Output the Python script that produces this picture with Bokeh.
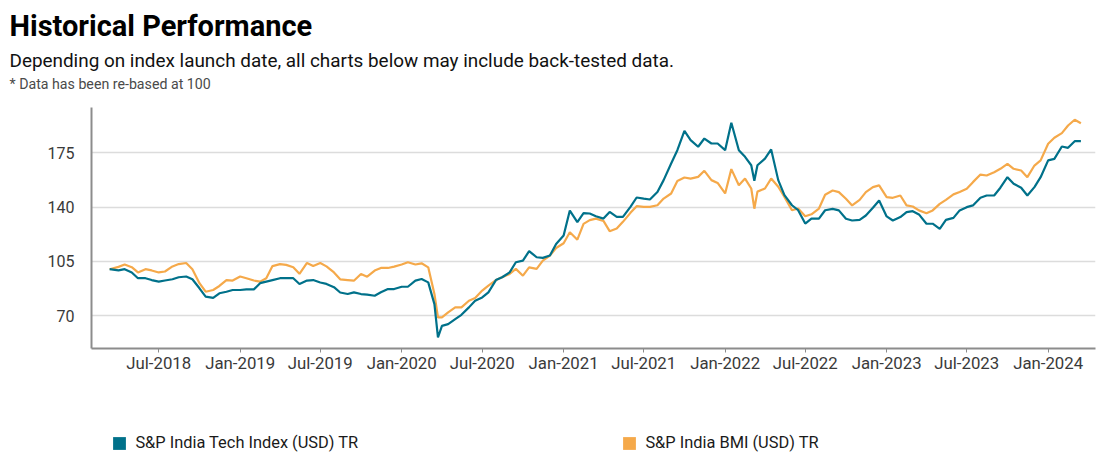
import datetime as dt
from bokeh.plotting import figure
from bokeh.layouts import column
from bokeh.models import (Label, FixedTicker, DatetimeTickFormatter, Range1d,
                          Legend, LegendItem, ColumnDataSource)
from bokeh.embed import file_html
from bokeh.resources import INLINE

# ---------------- data ----------------
dates = [
    "2018-03-12", "2018-04-01", "2018-04-15", "2018-05-01", "2018-05-15", "2018-06-01", "2018-06-15",
    "2018-07-01", "2018-07-15", "2018-08-01", "2018-08-15", "2018-09-01", "2018-09-15", "2018-10-01",
    "2018-10-15", "2018-11-01", "2018-11-15", "2018-12-01", "2018-12-15", "2019-01-01", "2019-01-15",
    "2019-02-01", "2019-02-15", "2019-03-01", "2019-03-15", "2019-04-01", "2019-04-15", "2019-05-01",
    "2019-05-15", "2019-06-01", "2019-06-15", "2019-07-01", "2019-07-15", "2019-08-01", "2019-08-15",
    "2019-09-01", "2019-09-15", "2019-10-01", "2019-10-15", "2019-11-01", "2019-11-15", "2019-12-01",
    "2019-12-15", "2020-01-01", "2020-01-15", "2020-02-01", "2020-02-15", "2020-03-01", "2020-03-15",
    "2020-03-23", "2020-04-01", "2020-04-15", "2020-05-01", "2020-05-15", "2020-06-01", "2020-06-15",
    "2020-07-01", "2020-07-15", "2020-08-01", "2020-08-15", "2020-09-01", "2020-09-15", "2020-10-01",
    "2020-10-15", "2020-11-01", "2020-11-15", "2020-12-01", "2020-12-15", "2021-01-01", "2021-01-15",
    "2021-02-01", "2021-02-15", "2021-03-01", "2021-03-15", "2021-04-01", "2021-04-15", "2021-05-01",
    "2021-05-15", "2021-06-01", "2021-06-15", "2021-07-01", "2021-07-15", "2021-08-01", "2021-08-15",
    "2021-09-01", "2021-09-15", "2021-10-01", "2021-10-15", "2021-11-01", "2021-11-15", "2021-12-01",
    "2021-12-15", "2022-01-01", "2022-01-15", "2022-02-01", "2022-02-15", "2022-03-01", "2022-03-08",
    "2022-03-15", "2022-04-01", "2022-04-15", "2022-05-01", "2022-05-15", "2022-06-01", "2022-06-15",
    "2022-07-01", "2022-07-15", "2022-08-01", "2022-08-15", "2022-09-01", "2022-09-15", "2022-10-01",
    "2022-10-15", "2022-11-01", "2022-11-15", "2022-12-01", "2022-12-15", "2023-01-01", "2023-01-15",
    "2023-02-01", "2023-02-15", "2023-03-01", "2023-03-15", "2023-04-01", "2023-04-15", "2023-05-01",
    "2023-05-15", "2023-06-01", "2023-06-15", "2023-07-01", "2023-07-15", "2023-08-01", "2023-08-15",
    "2023-09-01", "2023-09-15", "2023-10-01", "2023-10-15", "2023-11-01", "2023-11-15", "2023-12-01",
    "2023-12-15", "2024-01-01", "2024-01-15", "2024-02-01", "2024-02-15", "2024-03-01", "2024-03-15",
]

tech_index = [
    100.0, 99.2, 100.0, 97.9, 94.2, 94.2, 93.0,
    92.0, 92.7, 93.5, 94.8, 95.3, 93.5, 87.7,
    82.3, 81.5, 84.5, 85.5, 86.6, 86.6, 87.0,
    87.0, 91.0, 92.0, 93.0, 94.2, 94.2, 94.2,
    90.5, 92.7, 93.0, 91.4, 90.5, 88.4, 85.0,
    84.0, 85.1, 84.0, 83.6, 82.9, 85.1, 87.2,
    87.2, 88.7, 88.7, 92.6, 93.7, 91.5, 77.5,
    56.0, 63.5, 64.6, 67.8, 70.6, 75.4, 79.7,
    81.8, 85.1, 93.0, 94.8, 98.0, 104.5, 105.5,
    111.6, 107.7, 107.3, 108.8, 116.3, 121.7, 137.8,
    130.3, 136.1, 135.9, 134.1, 132.6, 136.9, 133.7,
    133.7, 140.2, 146.2, 145.5, 144.9, 149.8, 157.4,
    168.1, 176.7, 189.2, 183.2, 178.9, 184.2, 181.0,
    181.0, 176.7, 194.4, 176.7, 172.4, 167.0, 157.0,
    167.0, 171.3, 177.2, 157.4, 147.7, 141.2, 138.0,
    129.4, 132.6, 132.6, 138.0, 138.9, 137.9, 132.5,
    131.4, 131.8, 134.6, 139.6, 144.3, 134.0, 131.4,
    133.6, 136.8, 137.4, 135.3, 129.3, 129.3, 126.0,
    131.8, 133.1, 137.9, 140.0, 141.1, 146.0, 147.5,
    147.5, 152.5, 159.3, 155.0, 152.5, 147.5, 152.9,
    159.3, 170.1, 171.1, 179.1, 178.2, 182.5, 182.5,
]

bmi_index = [
    100.0, 101.5, 103.0, 101.3, 97.9, 100.0, 99.2,
    97.9, 98.5, 101.8, 103.3, 104.0, 100.0, 91.0,
    85.5, 86.6, 89.2, 93.0, 92.7, 95.3, 94.2,
    92.7, 92.0, 94.2, 102.0, 103.3, 102.8, 101.3,
    97.0, 104.0, 102.0, 104.0, 101.8, 97.9, 93.5,
    93.0, 92.6, 96.9, 95.2, 99.1, 100.8, 100.8,
    101.7, 103.0, 104.5, 103.0, 103.8, 101.2, 84.0,
    68.9, 68.9, 72.2, 75.4, 75.4, 79.7, 81.4,
    86.2, 89.4, 93.0, 94.8, 96.9, 100.2, 95.8,
    101.2, 100.2, 105.5, 108.8, 113.7, 116.7, 123.8,
    119.0, 129.2, 131.6, 132.6, 131.1, 124.5, 126.2,
    130.5, 136.3, 140.6, 140.2, 140.2, 141.2, 145.5,
    148.8, 156.9, 159.1, 158.4, 159.5, 163.4, 157.4,
    155.6, 148.8, 164.5, 154.1, 158.4, 152.0, 139.0,
    150.0, 152.0, 158.4, 153.1, 146.6, 138.0, 139.1,
    134.1, 135.4, 139.1, 148.0, 150.7, 149.7, 145.4,
    141.1, 144.7, 149.7, 152.9, 154.0, 146.4, 146.0,
    147.5, 141.1, 140.4, 137.9, 136.1, 137.9, 142.1,
    144.7, 148.2, 149.7, 151.8, 156.1, 161.0, 160.4,
    162.5, 164.7, 167.9, 164.7, 163.6, 159.3, 166.8,
    170.1, 180.8, 184.7, 187.7, 192.6, 196.3, 194.1,
]

series_names = ["S&P India Tech Index (USD) TR", "S&P India BMI (USD) TR"]
y_ticks = [70, 105, 140, 175]
x_tick_dates = ["2018-07-01", "2019-01-01", "2019-07-01", "2020-01-01", "2020-07-01", "2021-01-01",
                "2021-07-01", "2022-01-01", "2022-07-01", "2023-01-01", "2023-07-01", "2024-01-01"]
title_text = "Historical Performance"
subtitle_text = "Depending on index launch date, all charts below may include back-tested data."
note_text = "* Data has been re-based at 100"

# ---------------- styling ----------------
TEAL = "#00718a"
ORANGE = "#f5a94a"
FONT = "Roboto"
W = 1117
H_HDR, H_MAIN, H_LEG = 100, 300, 72
FL, FR = 91, 1095          # frame left/right (canvas px)
FT, FB = 107, 348          # frame top/bottom (canvas px, whole page)


def to_dt(s):
    return dt.datetime.fromisoformat(s)


def to_ms(s):
    return (to_dt(s) - dt.datetime(1970, 1, 1)).total_seconds() * 1000.0


def bare(height, y0, y1):
    f = figure(width=W, height=height, output_backend="svg", toolbar_location=None,
               x_range=Range1d(0, W), y_range=Range1d(y1, y0),
               x_axis_location=None, y_axis_location=None,
               min_border=0, min_border_left=0, min_border_right=0,
               min_border_top=0, min_border_bottom=0, frame_align=False)
    f.outline_line_color = None
    f.grid.visible = False
    f.background_fill_color = "white"
    f.border_fill_color = "white"
    return f


# ---------------- header ----------------
hdr = bare(H_HDR, 0, H_HDR)
for txt, yb, size, style, col in [(title_text, 25, "29px", "bold", "#000000"),
                                   (subtitle_text, 59.5, "18.9px", "normal", "#111111"),
                                   (note_text, 83, "14.2px", "normal", "#4a4a4a")]:
    hdr.add_layout(Label(x=9, y=yb, text=txt, text_font=FONT, text_font_size=size,
                         text_font_style=style, text_color=col,
                         text_baseline="alphabetic", text_align="left"))

# ---------------- main chart ----------------
src = ColumnDataSource(dict(date=[to_dt(d) for d in dates], tech=tech_index, bmi=bmi_index))

p = figure(width=W, height=H_MAIN, x_axis_type="datetime", output_backend="svg",
           toolbar_location=None, frame_align=False,
           x_range=Range1d(to_dt("2018-01-30"), to_dt("2024-04-17")),
           y_range=Range1d(48.9, 204.2),
           min_border_left=FL, min_border_right=W - FR,
           min_border_top=FT - H_HDR, min_border_bottom=H_HDR + H_MAIN - FB)
p.outline_line_color = None
p.background_fill_color = "white"
p.border_fill_color = "white"

for ax in (p.xaxis[0], p.yaxis[0]):
    ax.axis_line_color = "#8c8c8c"
    ax.axis_line_width = 2
    ax.minor_tick_line_color = None
    ax.major_label_text_font = FONT
    ax.major_label_text_color = "#3a3a3a"

p.xaxis.ticker = FixedTicker(ticks=[to_ms(d) for d in x_tick_dates])
fmt = "%b-%Y"
p.xaxis.formatter = DatetimeTickFormatter(years=fmt, months=fmt, days=fmt, hours=fmt,
                                          minutes=fmt, seconds=fmt, milliseconds=fmt,
                                          microseconds=fmt, minsec=fmt, hourmin=fmt)
p.xaxis.major_label_text_font_size = "16.8px"
p.xaxis.major_tick_line_color = "#8c8c8c"
p.xaxis.major_tick_line_width = 1
p.xaxis.major_tick_in = 0
p.xaxis.major_tick_out = 4
p.xaxis.major_label_standoff = 0

p.yaxis.ticker = FixedTicker(ticks=y_ticks)
p.yaxis.major_label_text_font_size = "16px"
p.yaxis.major_tick_line_color = None
p.yaxis.major_label_standoff = 11

p.xgrid.grid_line_color = None
p.ygrid.grid_line_color = "#dcdcdc"
p.ygrid.grid_line_width = 1.5

p.line("date", "bmi", source=src, line_color=ORANGE, line_width=2.2)
p.line("date", "tech", source=src, line_color=TEAL, line_width=2.2)

# ---------------- legend ----------------
leg = bare(H_LEG, 0, H_LEG)
# swatch renderers: placed outside the visible range, used only by the legend
sw_tech = leg.quad(left=[-40], right=[-30], top=[-40], bottom=[-30], fill_color=TEAL, line_color=None)
sw_bmi = leg.quad(left=[-40], right=[-30], top=[-40], bottom=[-30], fill_color=ORANGE, line_color=None)
legend = Legend(items=[LegendItem(label=series_names[0], renderers=[sw_tech]),
                       LegendItem(label=series_names[1], renderers=[sw_bmi])],
                orientation="horizontal", location=(111.4, 19.9),
                glyph_width=16, glyph_height=16, label_height=16, label_standoff=8,
                label_width=486, spacing=0, padding=0, margin=0,
                border_line_color=None, background_fill_alpha=0,
                label_text_font=FONT, label_text_font_size="16.4px", label_text_color="#1a1a1a")
leg.add_layout(legend, "center")

layout = column(hdr, p, leg, spacing=0)
open("out.html", "w").write(file_html(layout, INLINE))
